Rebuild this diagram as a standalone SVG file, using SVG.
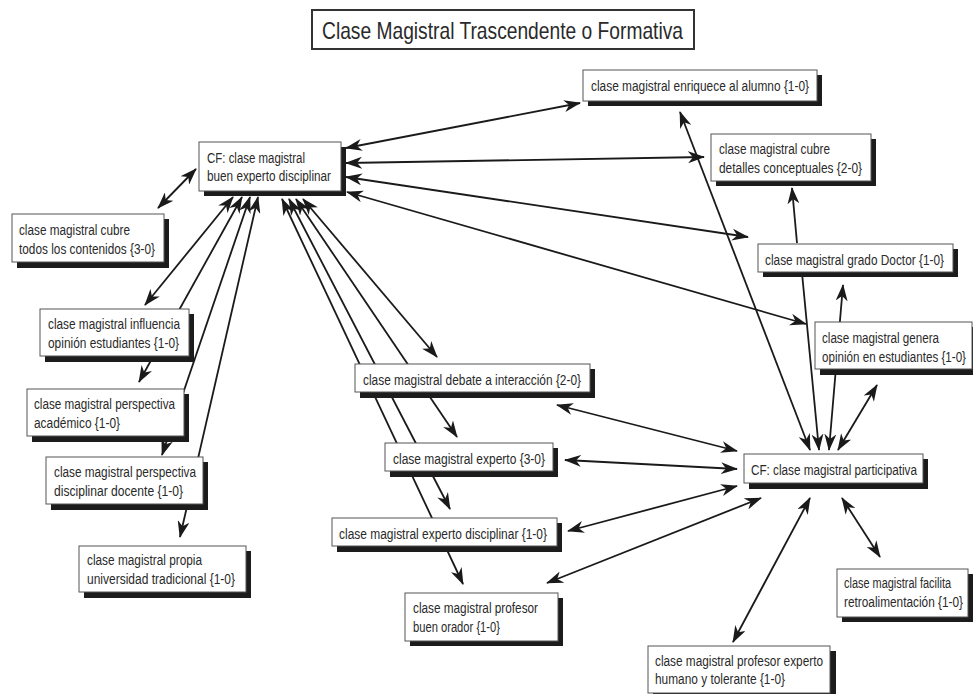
<svg xmlns="http://www.w3.org/2000/svg" width="973" height="694" viewBox="0 0 973 694">
<defs>
<style>
.box{fill:#fff;stroke:#555;stroke-width:1}
.sh{fill:#1c1c1c}
.t{font-family:"Liberation Sans",Arial,sans-serif;font-size:14px;fill:#2a2a2a}
.tt{font-family:"Liberation Sans",Arial,sans-serif;font-size:24px;fill:#2a2a2a}
.c{stroke:#1a1a1a;stroke-width:1.8;fill:none}
.d{marker-start:url(#ah);marker-end:url(#ah)}
.s{marker-end:url(#ah)}
</style>
<marker id="ah" viewBox="0 0 17 12" refX="16" refY="6" markerWidth="17" markerHeight="12" markerUnits="userSpaceOnUse" orient="auto-start-reverse">
<path d="M0,0 L17,6 L0,12 L5,6 z" fill="#1a1a1a"/>
</marker>
</defs>
<rect width="973" height="694" fill="#fff"/>

<g id="connectors">
<line class="c d" x1="346" y1="148" x2="580" y2="103"/>
<line class="c d" x1="346" y1="163" x2="704" y2="157"/>
<line class="c d" x1="346" y1="177" x2="748" y2="237"/>
<line class="c d" x1="347" y1="192" x2="806" y2="324"/>
<line class="c d" x1="196" y1="169" x2="158" y2="208"/>
<line class="c d" x1="233" y1="197" x2="145" y2="305"/>
<line class="c d" x1="242" y1="197" x2="139" y2="382"/>
<line class="c d" x1="250" y1="197" x2="162" y2="455"/>
<line class="c d" x1="258" y1="197" x2="180" y2="537"/>
<line class="c d" x1="282" y1="199" x2="463" y2="584"/>
<line class="c d" x1="289" y1="199" x2="450" y2="509"/>
<line class="c d" x1="296" y1="199" x2="457" y2="437"/>
<line class="c d" x1="303" y1="199" x2="437" y2="357"/>
<line class="c d" x1="810" y1="450" x2="680" y2="112"/>
<line class="c s" x1="802" y1="273" x2="819" y2="450"/>
<line class="c d" x1="829" y1="450" x2="843" y2="285"/>
<line class="c d" x1="838" y1="450" x2="877" y2="385"/>
<line class="c s" x1="797" y1="243" x2="792" y2="188"/>
<line class="c d" x1="737" y1="451" x2="557" y2="405"/>
<line class="c d" x1="737" y1="469" x2="565" y2="460"/>
<line class="c d" x1="737" y1="486" x2="568" y2="531"/>
<line class="c d" x1="761" y1="498" x2="547" y2="583"/>
<line class="c d" x1="810" y1="498" x2="733" y2="642"/>
<line class="c d" x1="842" y1="498" x2="880" y2="557"/>
</g>

<g id="title">
<rect x="312" y="10" width="382" height="39" fill="#fff" stroke="#333" stroke-width="2"/>
<text class="tt" x="322" y="39" textLength="361" lengthAdjust="spacingAndGlyphs">Clase Magistral Trascendente o Formativa</text>
</g>

<g id="cf-buen-experto">
<rect class="sh" x="204" y="147" width="142" height="49"/>
<rect class="box" x="199" y="142" width="142" height="49"/>
<text class="t" x="207" y="163" textLength="98" lengthAdjust="spacingAndGlyphs">CF: clase magistral</text>
<text class="t" x="207" y="181" textLength="124" lengthAdjust="spacingAndGlyphs">buen experto disciplinar</text>
</g>

<g id="enriquece">
<rect class="sh" x="588" y="75" width="234" height="31"/>
<rect class="box" x="583" y="70" width="234" height="31"/>
<text class="t" x="591" y="91" textLength="218" lengthAdjust="spacingAndGlyphs">clase magistral enriquece al alumno {1-0}</text>
</g>

<g id="detalles">
<rect class="sh" x="716" y="139" width="160" height="47"/>
<rect class="box" x="711" y="134" width="160" height="47"/>
<text class="t" x="719" y="154" textLength="111" lengthAdjust="spacingAndGlyphs">clase magistral cubre</text>
<text class="t" x="719" y="173" textLength="143" lengthAdjust="spacingAndGlyphs">detalles conceptuales {2-0}</text>
</g>

<g id="doctor">
<rect class="sh" x="763" y="249" width="195" height="28"/>
<rect class="box" x="758" y="244" width="195" height="28"/>
<text class="t" x="765" y="265" textLength="179" lengthAdjust="spacingAndGlyphs">clase magistral grado Doctor {1-0}</text>
</g>

<g id="genera">
<rect class="sh" x="820" y="327" width="158" height="48"/>
<rect class="box" x="815" y="322" width="157" height="47"/>
<text class="t" x="822" y="343" textLength="117" lengthAdjust="spacingAndGlyphs">clase magistral genera</text>
<text class="t" x="822" y="362" textLength="144" lengthAdjust="spacingAndGlyphs">opinión en estudiantes {1-0}</text>
</g>

<g id="cf-participativa">
<rect class="sh" x="749" y="459" width="179" height="30"/>
<rect class="box" x="744" y="454" width="179" height="29"/>
<text class="t" x="751" y="475" textLength="166" lengthAdjust="spacingAndGlyphs">CF: clase magistral participativa</text>
</g>

<g id="facilita">
<rect class="sh" x="842" y="574" width="131" height="48"/>
<rect class="box" x="837" y="569" width="131" height="48"/>
<text class="t" x="844" y="588" textLength="107" lengthAdjust="spacingAndGlyphs">clase magistral facilita</text>
<text class="t" x="844" y="607" textLength="119" lengthAdjust="spacingAndGlyphs">retroalimentación {1-0}</text>
</g>

<g id="humano">
<rect class="sh" x="653" y="651" width="183" height="48"/>
<rect class="box" x="648" y="646" width="182" height="47"/>
<text class="t" x="655" y="666" textLength="168" lengthAdjust="spacingAndGlyphs">clase magistral profesor experto</text>
<text class="t" x="655" y="684" textLength="130" lengthAdjust="spacingAndGlyphs">humano y tolerante {1-0}</text>
</g>

<g id="debate">
<rect class="sh" x="360" y="369" width="235" height="29"/>
<rect class="box" x="355" y="364" width="235" height="28"/>
<text class="t" x="363" y="385" textLength="218" lengthAdjust="spacingAndGlyphs">clase magistral debate a interacción {2-0}</text>
</g>

<g id="experto">
<rect class="sh" x="390" y="448" width="168" height="29"/>
<rect class="box" x="385" y="443" width="168" height="28"/>
<text class="t" x="393" y="464" textLength="152" lengthAdjust="spacingAndGlyphs">clase magistral experto {3-0}</text>
</g>

<g id="experto-disciplinar">
<rect class="sh" x="337" y="523" width="225" height="29"/>
<rect class="box" x="332" y="518" width="225" height="28"/>
<text class="t" x="339" y="539" textLength="208" lengthAdjust="spacingAndGlyphs">clase magistral experto disciplinar {1-0}</text>
</g>

<g id="orador">
<rect class="sh" x="410" y="598" width="153" height="48"/>
<rect class="box" x="405" y="593" width="153" height="48"/>
<text class="t" x="413" y="613" textLength="125" lengthAdjust="spacingAndGlyphs">clase magistral profesor</text>
<text class="t" x="413" y="632" textLength="87" lengthAdjust="spacingAndGlyphs">buen orador {1-0}</text>
</g>

<g id="todos-contenidos">
<rect class="sh" x="17" y="219" width="152" height="49"/>
<rect class="box" x="12" y="214" width="152" height="48"/>
<text class="t" x="19" y="235" textLength="111" lengthAdjust="spacingAndGlyphs">clase magistral cubre</text>
<text class="t" x="19" y="254" textLength="136" lengthAdjust="spacingAndGlyphs">todos los contenidos {3-0}</text>
</g>

<g id="influencia">
<rect class="sh" x="45" y="314" width="149" height="48"/>
<rect class="box" x="40" y="309" width="149" height="47"/>
<text class="t" x="48" y="329" textLength="132" lengthAdjust="spacingAndGlyphs">clase magistral influencia</text>
<text class="t" x="48" y="348" textLength="131" lengthAdjust="spacingAndGlyphs">opinión estudiantes {1-0}</text>
</g>

<g id="perspectiva-academico">
<rect class="sh" x="32" y="394" width="157" height="48"/>
<rect class="box" x="27" y="389" width="157" height="47"/>
<text class="t" x="34" y="409" textLength="141" lengthAdjust="spacingAndGlyphs">clase magistral perspectiva</text>
<text class="t" x="34" y="428" textLength="86" lengthAdjust="spacingAndGlyphs">académico {1-0}</text>
</g>

<g id="perspectiva-docente">
<rect class="sh" x="51" y="462" width="157" height="48"/>
<rect class="box" x="46" y="457" width="157" height="47"/>
<text class="t" x="54" y="477" textLength="142" lengthAdjust="spacingAndGlyphs">clase magistral perspectiva</text>
<text class="t" x="54" y="496" textLength="129" lengthAdjust="spacingAndGlyphs">disciplinar docente {1-0}</text>
</g>

<g id="propia-universidad">
<rect class="sh" x="84" y="551" width="167" height="47"/>
<rect class="box" x="79" y="546" width="167" height="46"/>
<text class="t" x="87" y="565" textLength="115" lengthAdjust="spacingAndGlyphs">clase magistral propia</text>
<text class="t" x="87" y="584" textLength="148" lengthAdjust="spacingAndGlyphs">universidad tradicional {1-0}</text>
</g>
</svg>
